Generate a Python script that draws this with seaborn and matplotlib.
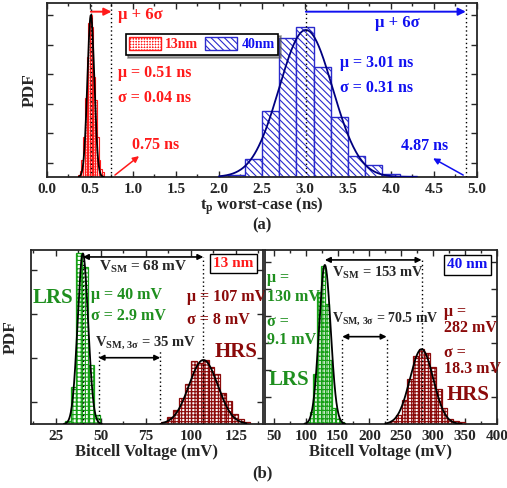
import numpy as np
import matplotlib
matplotlib.use("Agg")
import matplotlib.pyplot as plt
import seaborn as sns
from matplotlib.patches import Patch
from matplotlib.ticker import MultipleLocator

# ---------------- data ----------------
# (a) t_p worst-case histograms, relative PDF (arbitrary units)
tp13_centers = [0.37, 0.39, 0.41, 0.43, 0.45, 0.47, 0.49, 0.51, 0.53, 0.55, 0.57, 0.59, 0.61, 0.63, 0.65]
tp13_heights = [0.011, 0.034, 0.098, 0.23, 0.454, 0.69, 0.885, 0.931, 0.862, 0.575, 0.443, 0.23, 0.098, 0.046, 0.029]
tp13_width = 0.02
tp40_centers = [2.2, 2.4, 2.6, 2.8, 3.0, 3.2, 3.4, 3.6, 3.8, 4.0, 4.2]
tp40_heights = [0.01, 0.105, 0.378, 0.797, 0.860, 0.632, 0.347, 0.122, 0.069, 0.017, 0.006]
tp40_width = 0.2
tp13_mu, tp13_sigma, tp13_peak, tp13_6s = 0.51, 0.04, 0.93, 0.75
tp40_mu, tp40_sigma, tp40_peak, tp40_6s = 3.01, 0.31, 0.845, 4.87

# (b) bitcell voltage histograms, relative PDF
v13_lrs_centers = [31.5, 34.8, 38.1, 41.4, 44.7, 48.0]
v13_lrs_heights = [0.02, 0.21, 0.98, 0.90, 0.34, 0.05]
v13_lrs_width = 3.3
v13_hrs_centers = [85.1, 88.4, 91.7, 95.0, 98.3, 101.6, 104.9, 108.2, 111.5, 114.8, 118.1, 121.4, 124.7, 128.0, 131.3]
v13_hrs_heights = [0.01, 0.04, 0.08, 0.15, 0.23, 0.36, 0.35, 0.37, 0.33, 0.29, 0.18, 0.13, 0.06, 0.03, 0.01]
v13_hrs_width = 3.3
v40_lrs_centers = [103, 109, 115, 121, 127, 133, 139, 145, 151, 157]
v40_lrs_heights = [0.01, 0.07, 0.29, 0.76, 0.91, 0.69, 0.37, 0.09, 0.03, 0.01]
v40_lrs_width = 6
v40_hrs_centers = [237, 246, 255, 264, 273, 282, 291, 300, 309, 318, 327, 336, 345]
v40_hrs_heights = [0.02, 0.05, 0.14, 0.26, 0.39, 0.43, 0.41, 0.33, 0.20, 0.09, 0.03, 0.02, 0.01]
v40_hrs_width = 9
v13_lrs_mu, v13_lrs_sigma, v13_lrs_peak = 40, 2.9, 0.98
v13_hrs_mu, v13_hrs_sigma, v13_hrs_peak = 107, 8, 0.368
v40_lrs_mu, v40_lrs_sigma, v40_lrs_peak = 130, 9.1, 0.914
v40_hrs_mu, v40_hrs_sigma, v40_hrs_peak = 282, 18.3, 0.43
v13_vsm, v13_vsm3 = 68, 35
v40_vsm, v40_vsm3 = 153, 70.5

# ---------------- style ----------------
sns.set_theme(style="ticks")
plt.rcParams.update({
    "font.family": ["Liberation Serif", "DejaVu Serif"],
    "font.weight": "bold",
    "axes.labelweight": "bold",
    "mathtext.fontset": "custom",
    "mathtext.rm": "Liberation Serif:bold",
    "mathtext.bf": "Liberation Serif:bold",
    "mathtext.it": "Liberation Serif:bold",
    "mathtext.default": "bf",
    "hatch.linewidth": 0.8,
    "axes.linewidth": 1.3,
})

RED = "#FF1A1A"
BLUE = "#1010F0"
BLUEBAR = "#2A2ACC"
NAVY = "#000080"
GREEN = "#1E8F1E"
GREENBAR = "#16A016"
DRED = "#8B0A0A"


def hist(ax, centers, heights, width, **kw):
    lo = centers[0] - width / 2
    hi = centers[-1] + width / 2
    sns.histplot(x=list(centers), weights=list(heights), binwidth=width, binrange=(lo, hi),
                 ax=ax, **kw)


def gauss_curve(ax, mu, sigma, peak, lo, hi, color, lw=1.3):
    xs = np.linspace(lo, hi, 300)
    ys = peak * np.exp(-0.5 * ((xs - mu) / sigma) ** 2)
    sns.lineplot(x=xs, y=ys, ax=ax, color=color, lw=lw, sort=False, zorder=5)


def style_axis(ax, major, minor, ticks_y):
    ax.xaxis.set_major_locator(MultipleLocator(major))
    ax.xaxis.set_minor_locator(MultipleLocator(minor))
    ax.set_yticks(ticks_y)
    ax.set_yticklabels([])
    ax.tick_params(which="both", direction="in", top=True, right=True, width=1.0,
                   labelsize=11, pad=4)
    ax.tick_params(which="major", length=4)
    ax.tick_params(which="minor", length=2.5)
    ax.tick_params(axis="y", which="minor", left=False, right=False)
    for lab in ax.get_xticklabels():
        lab.set_fontweight("bold")


fig = plt.figure(figsize=(5.07, 4.88), dpi=100)
axA = fig.add_axes([0.0927, 0.6373, 0.8481, 0.3566])
axB1 = fig.add_axes([0.0606, 0.1311, 0.4576, 0.3566])
axB2 = fig.add_axes([0.5227, 0.1311, 0.4570, 0.3566])

# ---------------- panel (a) ----------------
ax = axA
hist(ax, tp40_centers, tp40_heights, tp40_width,
     color="white", edgecolor=BLUEBAR, hatch="\\\\\\\\\\", linewidth=1.0, alpha=1)
hist(ax, tp13_centers, tp13_heights, tp13_width,
     color=RED, edgecolor="white", hatch="++++++", linewidth=0.3, alpha=1)
hist(ax, tp13_centers, tp13_heights, tp13_width, fill=False, color=RED, linewidth=0.8)
gauss_curve(ax, tp13_mu, tp13_sigma, tp13_peak, 0.37, 0.66, "black")
gauss_curve(ax, tp40_mu, tp40_sigma, tp40_peak, 2.0, 4.3, NAVY)
for xv in [tp13_mu, tp13_6s, tp40_mu, tp40_6s]:
    ax.axvline(xv, color="black", ls=(0, (1, 2)), lw=1.0, zorder=6)
ax.set_xlim(0, 5)
ax.set_ylim(0, 1)
style_axis(ax, 0.5, 0.25, [0.08, 0.25, 0.42, 0.59, 0.76, 0.93])
ax.set_xlabel("t$_p$ worst-case (ns)", fontsize=12, labelpad=0)
ax.set_ylabel("PDF", fontsize=12.5, labelpad=3)

arr = dict(arrowstyle="-|>", lw=1.4, mutation_scale=11, shrinkA=0, shrinkB=0)
ax.annotate("", xy=(tp13_6s, 0.95), xytext=(tp13_mu, 0.95), arrowprops=dict(arr, color=RED))
ax.annotate("", xy=(tp40_6s, 0.95), xytext=(tp40_mu, 0.95), arrowprops=dict(arr, color=BLUE))
ax.text(0.83, 0.93, "μ + 6σ", color=RED, fontsize=12, va="center", ha="left")
ax.text(4.07, 0.885, "μ + 6σ", color=BLUE, fontsize=12, va="center", ha="center")
ax.text(0.83, 0.60, f"μ = {tp13_mu:.2f} ns", color=RED, fontsize=11.5, va="center")
ax.text(0.83, 0.454, f"σ = {tp13_sigma:.2f} ns", color=RED, fontsize=11.5, va="center")
ax.text(3.41, 0.655, f"μ = {tp40_mu:.2f} ns", color=BLUE, fontsize=11.5, va="center")
ax.text(3.41, 0.51, f"σ = {tp40_sigma:.2f} ns", color=BLUE, fontsize=11.5, va="center")
ax.text(0.99, 0.184, f"{tp13_6s:.2f} ns", color=RED, fontsize=11.5, va="center")
ax.text(4.12, 0.18, f"{tp40_6s:.2f} ns", color=BLUE, fontsize=11.5, va="center")
arr2 = dict(arrowstyle="-|>", lw=1.1, mutation_scale=9, shrinkA=0, shrinkB=0)
ax.annotate("", xy=(1.07, 0.12), xytext=(0.79, 0.011), arrowprops=dict(arr2, color=RED))
ax.annotate("", xy=(4.49, 0.107), xytext=(4.84, 0.011), arrowprops=dict(arr2, color=BLUE))

h13 = (Patch(facecolor=RED, edgecolor="white", hatch="++++++", lw=0.3),
       Patch(facecolor="none", edgecolor=RED, lw=1.0))
h40 = Patch(facecolor="white", edgecolor=BLUEBAR, hatch="\\\\\\\\\\", lw=1.0)
leg = ax.legend([h13, h40], ["13nm", "40nm"], loc="center", bbox_to_anchor=(0.36, 0.763),
                ncol=2, fontsize=10, handlelength=2.3, handleheight=1.1, columnspacing=0.5,
                handletextpad=0.3, borderpad=0.25, fancybox=False, shadow=True,
                framealpha=1, edgecolor="black")
leg.get_frame().set_linewidth(1.2)
for t, c in zip(leg.get_texts(), [RED, BLUE]):
    t.set_color(c)
    t.set_fontweight("bold")


# ---------------- panel (b) ----------------
def volt_panel(ax, lrs_c, lrs_h, lrs_w, hrs_c, hrs_h, hrs_w, lrs_fit, hrs_fit, lrs_rng, hrs_rng):
    hist(ax, lrs_c, lrs_h, lrs_w, color="white", edgecolor=GREENBAR, hatch="++++",
         linewidth=0.9, alpha=1)
    hist(ax, hrs_c, hrs_h, hrs_w, color="white", edgecolor=DRED, hatch="+++++",
         linewidth=0.9, alpha=1)
    gauss_curve(ax, *lrs_fit, *lrs_rng, "black")
    gauss_curve(ax, *hrs_fit, *hrs_rng, "black")


ax = axB1
volt_panel(ax, v13_lrs_centers, v13_lrs_heights, v13_lrs_width,
           v13_hrs_centers, v13_hrs_heights, v13_hrs_width,
           (v13_lrs_mu, v13_lrs_sigma, v13_lrs_peak), (v13_hrs_mu, v13_hrs_sigma, v13_hrs_peak),
           (29.5, 50.5), (84, 131))
ax.set_xlim(11, 140)
ax.set_ylim(0, 1)
style_axis(ax, 25, 12.5, [0.126, 0.379, 0.632, 0.885])
ax.set_xlabel("Bitcell Voltage (mV)", fontsize=12, labelpad=1)
ax.set_ylabel("PDF", fontsize=12.5, labelpad=5)

lo3 = v13_lrs_mu + 3 * v13_lrs_sigma
hi3 = v13_hrs_mu - 3 * v13_hrs_sigma
dot = dict(color="black", ls=(0, (1, 2)), lw=1.0, zorder=6)
ax.vlines([v13_lrs_mu, v13_hrs_mu], 0, 0.96, **dot)
ax.vlines([lo3, hi3], 0, 0.42, **dot)
darr = dict(arrowstyle="<|-|>", lw=1.2, mutation_scale=8, shrinkA=0, shrinkB=0, color="black")
ax.annotate("", xy=(v13_hrs_mu, 0.96), xytext=(v13_lrs_mu, 0.96), arrowprops=darr)
ax.annotate("", xy=(hi3, 0.381), xytext=(lo3, 0.381), arrowprops=darr)
ax.text(73.7, 0.90, f"V$_{{SM}}$ = {v13_vsm} mV", fontsize=11, ha="center", va="center")
ax.text(46.5, 0.464, f"V$_{{SM,\\,3σ}}$ = {v13_vsm3} mV", fontsize=10.5, ha="left", va="center")
ax.text(123.7, 0.92, "13 nm", color=RED, fontsize=11, ha="center", va="center",
        bbox=dict(boxstyle="square,pad=0.2", fc="white", ec="black", lw=1.0))
ax.text(23.5, 0.722, "LRS", color=GREEN, fontsize=15, ha="center", va="center")
ax.text(44.4, 0.741, f"μ = {v13_lrs_mu} mV", color=GREEN, fontsize=11.5, va="center")
ax.text(44.4, 0.622, f"σ = {v13_lrs_sigma} mV", color=GREEN, fontsize=11.5, va="center")
ax.text(97.8, 0.732, f"μ = {v13_hrs_mu} mV", color=DRED, fontsize=11.5, va="center")
ax.text(97.8, 0.598, f"σ = {v13_hrs_sigma} mV", color=DRED, fontsize=11.5, va="center")
ax.text(125, 0.415, "HRS", color=DRED, fontsize=15, ha="center", va="center")

ax = axB2
volt_panel(ax, v40_lrs_centers, v40_lrs_heights, v40_lrs_width,
           v40_hrs_centers, v40_hrs_heights, v40_hrs_width,
           (v40_lrs_mu, v40_lrs_sigma, v40_lrs_peak), (v40_hrs_mu, v40_hrs_sigma, v40_hrs_peak),
           (98, 162), (225, 345))
ax.set_xlim(36, 400)
ax.set_ylim(0, 1)
style_axis(ax, 50, 25, [0.155, 0.31, 0.465, 0.62, 0.775, 0.93])
ax.set_xlabel("Bitcell Voltage (mV)", fontsize=12, labelpad=1)
ax.set_ylabel("")

lo3 = v40_lrs_mu + 3 * v40_lrs_sigma
hi3 = v40_hrs_mu - 3 * v40_hrs_sigma
ax.vlines([v40_hrs_mu], 0, 0.943, **dot)
ax.vlines([lo3, hi3], 0, 0.49, **dot)
ax.annotate("", xy=(v40_hrs_mu, 0.943), xytext=(v40_lrs_mu, 0.943), arrowprops=darr)
ax.annotate("", xy=(hi3, 0.502), xytext=(lo3, 0.502), arrowprops=darr)
ax.text(142, 0.87, f"V$_{{SM}}$ = {v40_vsm} mV", fontsize=10.5, ha="left", va="center")
ax.text(140.5, 0.607, f"V$_{{SM,\\,3σ}}$ = {v40_vsm3} mV", fontsize=10, ha="left", va="center")
ax.text(354, 0.914, "40 nm", color=BLUE, fontsize=11, ha="center", va="center",
        bbox=dict(boxstyle="square,pad=0.2", fc="white", ec="black", lw=1.0))
ax.text(39.5, 0.837, "μ =", color=GREEN, fontsize=11.5, va="center")
ax.text(39.5, 0.732, f"{v40_lrs_mu} mV", color=GREEN, fontsize=11.5, va="center")
ax.text(39.5, 0.588, "σ =", color=GREEN, fontsize=11.5, va="center")
ax.text(39.5, 0.483, f"{v40_lrs_sigma} mV", color=GREEN, fontsize=11.5, va="center")
ax.text(41, 0.253, "LRS", color=GREEN, fontsize=15, ha="left", va="center")
ax.text(317.6, 0.642, "μ =", color=DRED, fontsize=11.5, va="center")
ax.text(317.6, 0.55, f"{v40_hrs_mu} mV", color=DRED, fontsize=11.5, va="center")
ax.text(317.6, 0.41, "σ =", color=DRED, fontsize=11.5, va="center")
ax.text(317.6, 0.316, f"{v40_hrs_sigma} mV", color=DRED, fontsize=11.5, va="center")
ax.text(322, 0.167, "HRS", color=DRED, fontsize=15, ha="left", va="center")

fig.text(0.517, 0.538, "(a)", fontsize=12, ha="center", va="center", fontweight="bold")
fig.text(0.517, 0.029, "(b)", fontsize=12, ha="center", va="center", fontweight="bold")

fig.savefig("out.png", dpi=100)
